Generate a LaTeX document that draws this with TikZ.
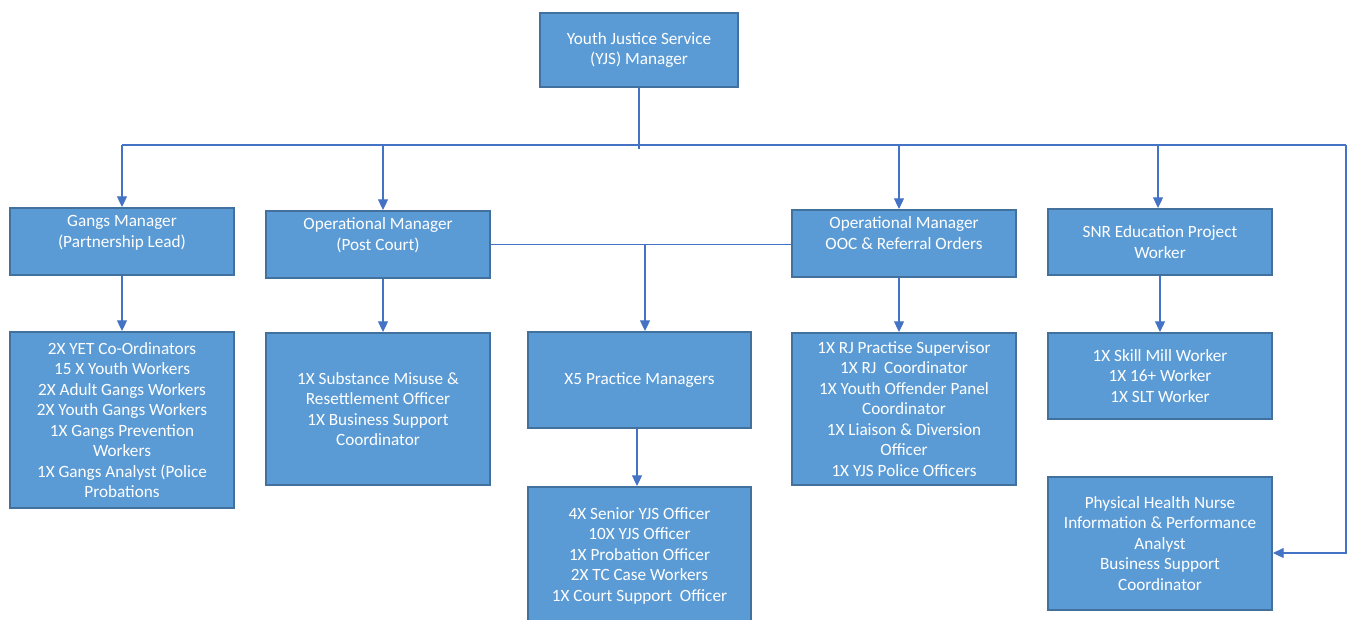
\documentclass[tikz,border=0pt]{standalone}
\usepackage{fontspec}
\setmainfont{Carlito}
\usetikzlibrary{positioning,arrows.meta,calc}
\definecolor{orgfill}{RGB}{91,155,213}
\definecolor{orgedge}{RGB}{65,113,156}
\definecolor{orgline}{RGB}{68,114,196}

\begin{document}
\begin{tikzpicture}[x=0.75pt,y=-0.75pt,
            box/.style={draw=orgedge,fill=orgfill,line width=1.5pt,
                        text=white,align=center,inner sep=0pt,
                        font=\fontsize{12.9}{15.4}\selectfont},
            mgr/.style={box,minimum width=168pt,minimum height=50.25pt},
            link/.style={draw,orgline,line width=0.8pt},
            arr/.style={link,-{Triangle[length=8pt,width=7.5pt]}}]
        \clip (0,0) rectangle (1351,619);
        \node[box,minimum width=148.5pt,minimum height=55.5pt]
              (yjs) at (639,50) {Youth Justice Service\\(YJS) Manager};
        \node[mgr] (gangsMgr) at (122,241.5)
              {Gangs Manager\\(Partnership Lead)\\\mbox{}};
        \node[mgr] (postMgr) at (378,244.5)
              {Operational Manager\\(Post Court)\\\mbox{}};
        \node[mgr] (oocMgr) at (904,243.5)
              {Operational Manager\\OOC \& Referral Orders\\\mbox{}};
        \node[mgr,minimum height=49.5pt] (snrMgr) at (1160,242)
              {SNR Education Project\\Worker};
        \node[box,minimum width=168pt,minimum height=132pt]
              (gangsStaff) at (122,420)
              {2X YET Co-Ordinators\\15 X Youth Workers\\2X Adult Gangs Workers\\
               2X Youth Gangs Workers\\1X Gangs Prevention\\Workers\\
               1X Gangs Analyst (Police\\Probations};
        \node[box,minimum width=168pt,minimum height=114pt]
              (postStaff) at (378,409)
              {1X Substance Misuse \&\\Resettlement Officer\\
               1X Business Support\\Coordinator};
        \node[box,minimum width=167.25pt,minimum height=72pt]
              (practice) at (639.5,380) {X5 Practice Managers};
        \node[box,minimum width=167.25pt,minimum height=102.75pt]
              (seniors) at (639.5,555.5)
              {4X Senior YJS Officer\\10X YJS Officer\\1X Probation Officer\\
               2X TC Case Workers\\1X Court Support~ Officer};
        \node[box,minimum width=168pt,minimum height=114pt]
              (oocStaff) at (904,409)
              {1X RJ Practise Supervisor\\1X RJ~ Coordinator\\
               1X Youth Offender Panel\\Coordinator\\
               1X Liaison \& Diversion\\Officer\\1X YJS Police Officers};
        \node[box,minimum width=168pt,minimum height=64.5pt]
              (snrStaff) at (1160,376)
              {1X Skill Mill Worker\\1X 16+ Worker\\1X SLT Worker};
        \node[box,minimum width=168pt,minimum height=99.75pt]
              (health) at (1160,543.5)
              {Physical Health Nurse\\Information \& Performance\\Analyst\\
               Business Support\\Coordinator};
        \coordinate (busL) at (122,145);
        \coordinate (busR) at (1346,145);
        \draw[link] (yjs.south) -- ++(0,61);
        \draw[link] (busL) -- (busR);
        \draw[arr] (busL) -- (gangsMgr.north);
        \draw[arr] ($(postMgr.north |- busL)+(5,0)$) -- ($(postMgr.north)+(5,0)$);
        \draw[arr] ($(oocMgr.north |- busL)+(-5,0)$) -- ($(oocMgr.north)+(-5,0)$);
        \draw[arr] ($(snrMgr.north |- busL)+(-2,0)$) -- ($(snrMgr.north)+(-2,0)$);
        \draw[arr] (busR) |- ($(health.east)+(0,9.5)$);
        \draw[arr] (gangsMgr.south) -- (gangsStaff.north);
        \draw[arr] ($(postMgr.south)+(5,0)$) -- ($(postStaff.north)+(5,0)$);
        \draw[arr] ($(oocMgr.south)+(-5,0)$) -- ($(oocStaff.north)+(-5,0)$);
        \draw[arr] (snrMgr.south) -- (snrStaff.north);
        \draw[link] (postMgr.east) -- (postMgr.east -| oocMgr.west);
        \draw[arr] ($(practice.north |- postMgr.east)+(5.5,0)$)
              -- ($(practice.north)+(5.5,0)$);
        \draw[arr] ($(practice.south)+(-2.5,0)$) -- ($(seniors.north)+(-2.5,0)$);
\end{tikzpicture}
\end{document}
